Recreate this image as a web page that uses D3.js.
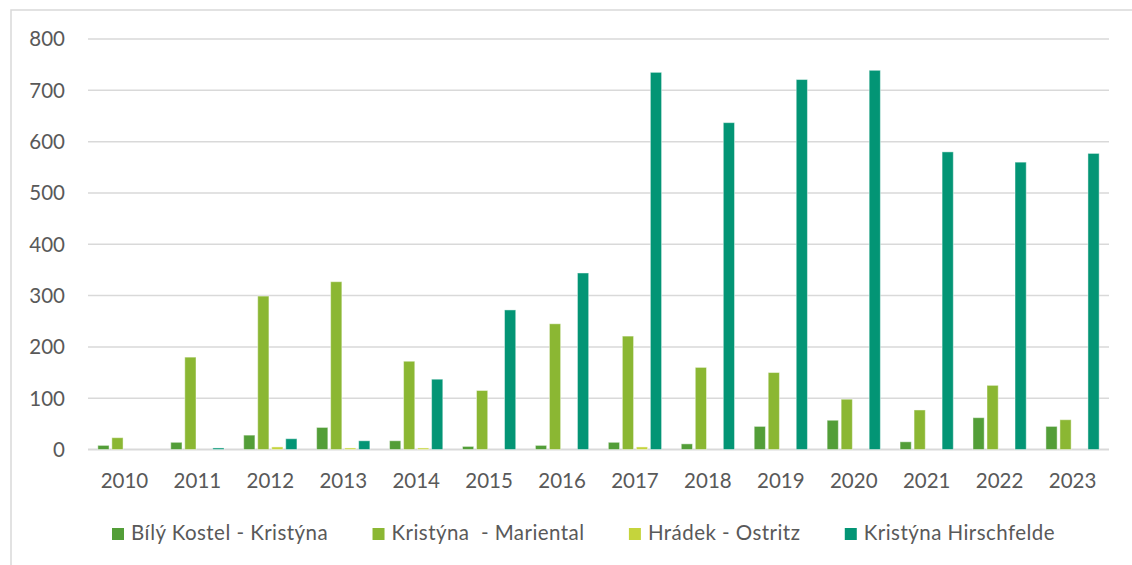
<!DOCTYPE html>
<meta charset="utf-8">
<style>
  body { margin: 0; background: #fff; }
  text { font-family: Lato, "Open Sans", sans-serif; fill: #595959; }
</style>
<body>
<div id="chart"></div>
<script src="https://d3js.org/d3.v7.js"></script>
<script>
  var years = ["2010", "2011", "2012", "2013", "2014", "2015", "2016",
               "2017", "2018", "2019", "2020", "2021", "2022", "2023"];
  var seriesNames = ["Bílý Kostel - Kristýna", "Kristýna  - Mariental",
                     "Hrádek - Ostritz", "Kristýna Hirschfelde"];
  var bilyKostel = [8, 14, 28, 43, 17, 6, 8, 14, 11, 45, 57, 15, 62, 45];
  var mariental = [23, 180, 299, 327, 172, 115, 245, 221, 160, 150, 98, 77, 125, 58];
  var hradek = [0, 0, 5, 3, 3, 0, 0, 5, 0, 0, 0, 0, 0, 0];
  var hirschfelde = [0, 3, 21, 17, 137, 272, 344, 735, 637, 721, 739, 580, 560, 577];
  var yTicks = [0, 100, 200, 300, 400, 500, 600, 700, 800];
  var colors = ["#539E38", "#8BB733", "#C5D43C", "#039575"];

  var allSeries = [bilyKostel, mariental, hradek, hirschfelde];

  var width = 1132, height = 565;
  var svg = d3.select("#chart").append("svg")
    .attr("width", width)
    .attr("height", height);

  // outer frame
  svg.append("rect")
    .attr("x", 11).attr("y", 10)
    .attr("width", 1140).attr("height", 580)
    .attr("fill", "none")
    .attr("stroke", "#D9D9D9")
    .attr("stroke-width", 1.5);

  var x = d3.scaleBand()
    .domain(years)
    .range([88, 1109])
    .paddingInner(0.27)
    .paddingOuter(0.135);

  var xInner = d3.scaleBand()
    .domain(d3.range(seriesNames.length))
    .range([0, x.bandwidth()])
    .paddingInner(0.2);

  var y = d3.scaleLinear()
    .domain([0, 800])
    .range([449.5, 39]);

  // gridlines
  svg.append("g").selectAll("line")
    .data(yTicks)
    .enter().append("line")
    .attr("x1", 88).attr("x2", 1109)
    .attr("y1", function(d) { return y(d); })
    .attr("y2", function(d) { return y(d); })
    .attr("stroke", "#D9D9D9")
    .attr("stroke-width", function(d) { return d === 0 ? 2 : 1.5; });

  // y labels
  svg.append("g").selectAll("text")
    .data(yTicks)
    .enter().append("text")
    .attr("x", 65)
    .attr("y", function(d) { return y(d); })
    .attr("dy", "0.36em")
    .attr("text-anchor", "end")
    .style("font-size", "20.5px")
    .text(function(d) { return d; });

  // bars
  var groups = svg.append("g").selectAll("g")
    .data(years)
    .enter().append("g")
    .attr("transform", function(d) { return "translate(" + x(d) + ",0)"; });

  groups.selectAll("rect")
    .data(function(d, i) {
      return allSeries.map(function(s, k) { return {k: k, v: s[i]}; });
    })
    .enter().append("rect")
    .filter(function(d) { return d.v > 0; })
    .attr("x", function(d) { return xInner(d.k); })
    .attr("width", xInner.bandwidth())
    .attr("y", function(d) { return y(d.v); })
    .attr("height", function(d) { return y(0) - y(d.v); })
    .attr("fill", function(d) { return colors[d.k]; })
    .attr("stroke", "rgba(255,255,255,0.45)")
    .attr("stroke-width", 1);

  // x labels
  svg.append("g").selectAll("text")
    .data(years)
    .enter().append("text")
    .attr("x", function(d) { return x(d) + x.bandwidth() / 2; })
    .attr("y", 487.5)
    .attr("text-anchor", "middle")
    .style("font-size", "20.5px")
    .text(function(d) { return d; });

  // legend, spread between 112 and 1055 like the original
  var legend = svg.append("g");
  var items = legend.selectAll("g")
    .data(seriesNames)
    .enter().append("g");

  items.append("rect")
    .attr("width", 12).attr("height", 12)
    .attr("y", 528)
    .attr("fill", function(d, i) { return colors[i]; });

  items.append("text")
    .attr("x", 19)
    .attr("y", 540)
    .style("font-size", "20.5px")
    .style("letter-spacing", "0.45px")
    .style("white-space", "pre")
    .text(function(d) { return d; });

  var widths = [];
  items.each(function() {
    widths.push(19 + d3.select(this).select("text").node().getComputedTextLength());
  });
  var legendLeft = 112, legendRight = 1055;
  var gap = (legendRight - legendLeft - d3.sum(widths)) / (widths.length - 1);
  var cursor = legendLeft;
  items.attr("transform", function(d, i) {
    var tx = cursor;
    cursor += widths[i] + gap;
    return "translate(" + tx + ",0)";
  });
</script>
</body>
</html>
